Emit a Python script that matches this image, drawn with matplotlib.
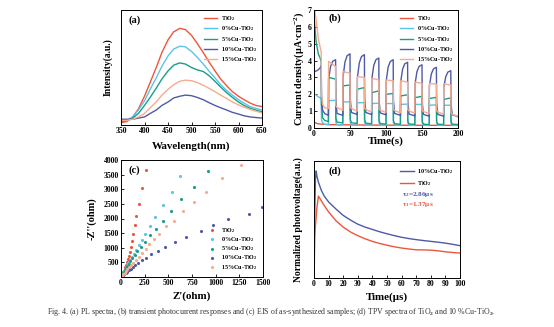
import matplotlib
matplotlib.use('Agg')
import matplotlib.pyplot as plt
import numpy as np

plt.rcParams['font.family'] = ['Liberation Serif', 'DejaVu Serif']
plt.rcParams['font.weight'] = 'bold'
plt.rcParams['mathtext.fontset'] = 'custom'
plt.rcParams['mathtext.rm'] = 'Liberation Serif:bold'
plt.rcParams['mathtext.it'] = 'Liberation Serif:bold'
plt.rcParams['mathtext.bf'] = 'Liberation Serif:bold'
plt.rcParams['mathtext.default'] = 'rm'

names = ['TiO$_2$', '0%Cu-TiO$_2$', '5%Cu-TiO$_2$', '10%Cu-TiO$_2$', '15%Cu-TiO$_2$']
colors = ['#EF553B', '#5CC3E8', '#1A9E86', '#4E5AA6', '#F7AB8D']

# (a) PL spectra
wl = [350, 362, 375, 387, 400, 412, 425, 437, 450, 462, 475, 487, 500, 512, 525,
      537, 550, 562, 575, 587, 600, 612, 625, 637, 650]
pl_tio2 = [0.02, 0.03, 0.07, 0.14, 0.25, 0.37, 0.50, 0.63, 0.74, 0.81, 0.84, 0.83, 0.78, 0.71, 0.63,
           0.55, 0.47, 0.40, 0.34, 0.29, 0.25, 0.22, 0.19, 0.17, 0.16]
pl_0cu = [0.03, 0.04, 0.07, 0.13, 0.21, 0.31, 0.41, 0.51, 0.60, 0.66, 0.685, 0.68, 0.64, 0.59, 0.53,
          0.47, 0.41, 0.35, 0.30, 0.26, 0.22, 0.19, 0.16, 0.145, 0.13]
pl_5cu = [0.03, 0.04, 0.06, 0.10, 0.17, 0.24, 0.32, 0.40, 0.47, 0.52, 0.54, 0.53, 0.50, 0.48, 0.465,
          0.43, 0.38, 0.33, 0.28, 0.24, 0.20, 0.17, 0.145, 0.13, 0.115]
pl_10cu = [0.05, 0.05, 0.05, 0.06, 0.07, 0.10, 0.13, 0.17, 0.20, 0.235, 0.25, 0.26, 0.255, 0.24, 0.22,
           0.195, 0.17, 0.15, 0.13, 0.11, 0.095, 0.08, 0.07, 0.065, 0.06]
pl_15cu = [0.04, 0.04, 0.05, 0.07, 0.10, 0.15, 0.20, 0.26, 0.31, 0.35, 0.38, 0.39, 0.385, 0.37, 0.345,
           0.32, 0.29, 0.26, 0.23, 0.20, 0.175, 0.155, 0.135, 0.12, 0.105]

# (b) transient photocurrent: light on 10 s in each 20 s cycle
t_on = [20, 40, 60, 80, 100, 120, 140, 160, 180]
t_init = [0, 3, 6, 9, 10, 10.4, 12, 15, 20]
init_0cu = [2.05, 1.95, 1.85, 1.78, 1.75, 0.5, 0.3, 0.22, 0.2]
init_5cu = [6.6, 5.1, 4.4, 4.1, 3.9, 1.4, 0.6, 0.45, 0.38]
init_10cu = [3.35, 3.38, 3.45, 3.6, 3.7, 1.8, 1.05, 0.85, 0.75]
init_15cu = [7.3, 6.4, 5.3, 4.7, 4.5, 2.0, 1.4, 1.2, 1.15]
t_tio2 = [0, 5, 20, 60, 100, 140, 200]
j_tio2 = [0.35, 0.25, 0.2, 0.18, 0.17, 0.16, 0.16]
on_start_0cu = [1.62, 1.55, 1.5, 1.45, 1.45, 1.4, 1.4, 1.35, 1.35]
on_end_0cu = [1.65, 1.55, 1.5, 1.47, 1.45, 1.42, 1.4, 1.37, 1.35]
off_0cu = [0.17, 0.16, 0.16, 0.15, 0.15, 0.15, 0.15, 0.15, 0.15]
on_start_5cu = [3.0, 2.5, 2.3, 2.1, 2.0, 1.9, 1.8, 1.75, 1.7]
on_end_5cu = [2.9, 2.55, 2.4, 2.2, 2.05, 1.97, 1.88, 1.82, 1.78]
off_5cu = [0.3, 0.27, 0.25, 0.23, 0.22, 0.21, 0.2, 0.2, 0.2]
on_start_10cu = [2.9, 3.0, 3.0, 2.9, 2.8, 2.7, 2.6, 2.5, 2.4]
on_end_10cu = [4.05, 4.4, 4.35, 4.15, 4.05, 3.9, 3.75, 3.6, 3.4]
off_10cu = [0.75, 0.8, 0.8, 0.78, 0.75, 0.72, 0.7, 0.7, 0.68]
on_start_15cu = [3.95, 3.35, 3.05, 2.95, 2.85, 2.8, 2.72, 2.65, 2.62]
on_end_15cu = [3.65, 3.25, 3.0, 2.85, 2.8, 2.72, 2.65, 2.6, 2.55]
off_15cu = [1.05, 1.0, 0.95, 0.92, 0.9, 0.88, 0.85, 0.82, 0.7]

# (c) EIS Nyquist
zr_tio2 = [264, 218, 187, 162, 145, 128, 114, 101, 90, 80, 70, 61, 52, 44, 37, 30, 24, 18, 13, 9, 5, 2]
zi_tio2 = [3650, 3030, 2510, 2090, 1770, 1470, 1220, 1020, 850, 715, 600, 500, 410, 335, 270, 210, 160, 115, 80, 50, 25, 8]
zr_0cu = [623, 536, 448, 364, 305, 258, 220, 186, 157, 133, 112, 94, 78, 64, 52, 41, 32, 24, 17, 11, 6, 2]
zi_0cu = [3440, 2900, 2450, 2060, 1750, 1470, 1260, 1090, 930, 790, 675, 575, 485, 405, 335, 270, 210, 155, 110, 70, 35, 10]
zr_5cu = [920, 767, 633, 524, 443, 367, 308, 255, 210, 174, 145, 120, 99, 81, 66, 52, 40, 30, 21, 14, 8, 3]
zi_5cu = [3630, 3090, 2650, 2270, 1930, 1645, 1425, 1195, 1035, 880, 750, 640, 540, 450, 370, 300, 235, 180, 130, 85, 45, 15]
zr_10cu = [1490, 1357, 1127, 975, 845, 690, 575, 465, 390, 318, 264, 220, 184, 153, 127, 104, 84, 66, 50, 36, 24, 13, 5]
zi_10cu = [2380, 2150, 1970, 1770, 1560, 1360, 1180, 1030, 890, 770, 660, 565, 480, 405, 340, 280, 228, 182, 140, 102, 68, 38, 12]
zr_15cu = [1264, 1068, 903, 772, 659, 557, 476, 406, 352, 300, 262, 220, 185, 155, 128, 105, 85, 67, 51, 37, 25, 14, 6]
zi_15cu = [3830, 3370, 2920, 2560, 2260, 1920, 1730, 1470, 1290, 1120, 960, 810, 690, 580, 485, 400, 325, 260, 200, 145, 95, 55, 20]

# (d) TPV
t_tpv_cu = [0, 0.5, 1.0, 1.5, 2, 3, 5, 7, 10, 15, 20, 25, 30, 35, 40, 45, 50, 55, 60, 65, 70, 75, 80, 85, 90, 95, 100]
v_tpv_cu = [0.0, 0.55, 0.85, 0.915, 0.87, 0.82, 0.75, 0.70, 0.65, 0.59, 0.535, 0.495, 0.46, 0.435, 0.415, 0.395,
            0.378, 0.362, 0.348, 0.337, 0.328, 0.32, 0.313, 0.306, 0.298, 0.288, 0.276]
t_tpv_ti = [0.2, 0.5, 1.0, 2, 3, 4, 5, 7, 10, 15, 20, 25, 30, 35, 40, 45, 50, 55, 60, 65, 70, 75, 80, 85, 90, 95, 100]
v_tpv_ti = [0.1, 0.36, 0.45, 0.6, 0.70, 0.68, 0.66, 0.62, 0.565, 0.49, 0.435, 0.393, 0.362, 0.335, 0.313, 0.295,
            0.28, 0.267, 0.256, 0.248, 0.241, 0.24, 0.238, 0.232, 0.224, 0.218, 0.213]


def pulse_trace(init, on_start, on_end, off, rounded, t_last, y_last):
    t = list(t_init)
    y = list(init)
    for i, ts in enumerate(t_on):
        if rounded:
            t += [ts, ts + 0.3, ts + 3, ts + 6, ts + 10]
            y += [y[-1], on_start[i], on_start[i] + 0.65 * (on_end[i] - on_start[i]),
                  on_start[i] + 0.92 * (on_end[i] - on_start[i]), on_end[i]]
        else:
            t += [ts, ts + 0.3, ts + 10]
            y += [y[-1], on_start[i], on_end[i]]
        t += [ts + 10.3, ts + 12, ts + 20]
        y += [off[i] + 0.45 * (on_end[i] - off[i]) * (0.6 if rounded else 0.25), off[i] * 1.15, off[i]]
    return t + [t_last], y + [y_last]


fig = plt.figure(figsize=(5.54, 3.27), dpi=100)
fig.patch.set_facecolor('white')

tick_fs = 5.6
lab_fs = 7.9
leg_fs = 4.4


def style(ax):
    ax.tick_params(direction='in', length=2, width=0.6, labelsize=tick_fs, pad=1.5)
    for s in ax.spines.values():
        s.set_linewidth(0.7)
    for lab in ax.get_xticklabels() + ax.get_yticklabels():
        lab.set_fontweight('bold')


# panel a
ax1 = fig.add_axes([121 / 554, 1 - 125 / 327, 141 / 554, 115 / 327])
for ys, c, n in zip([pl_tio2, pl_0cu, pl_5cu, pl_10cu, pl_15cu], colors, names):
    ax1.plot(wl, ys, color=c, lw=1.0, label=n)
ax1.set_xlim(350, 650)
ax1.set_ylim(0, 1.0)
ax1.set_xticks([350, 400, 450, 500, 550, 600, 650])
ax1.set_yticks([])
style(ax1)
ax1.set_xlabel('Wavelength(nm)', fontsize=lab_fs, fontweight='bold')
ax1.xaxis.set_label_coords(0.5, -0.14)
ax1.set_ylabel('Intensity(a.u.)', fontsize=6.9, fontweight='bold')
ax1.yaxis.set_label_coords(-0.06, 0.5)
ax1.text(0.05, 0.95, '(a)', transform=ax1.transAxes, fontsize=7.5, fontweight='bold', va='top')
ax1.legend(loc='upper right', frameon=False, fontsize=leg_fs, handlelength=2.2, labelspacing=0.22,
           borderaxespad=0.3, handletextpad=0.6)

# panel b
ax2 = fig.add_axes([314 / 554, 1 - 128 / 327, 144 / 554, 118 / 327])
ax2.plot(t_tio2, j_tio2, color=colors[0], lw=1.0, label=names[0])
tr = pulse_trace(init_0cu, on_start_0cu, on_end_0cu, off_0cu, False, 200, 0.15)
ax2.plot(tr[0], tr[1], color=colors[1], lw=1.0, label=names[1])
tr = pulse_trace(init_5cu, on_start_5cu, on_end_5cu, off_5cu, False, 200, 0.2)
ax2.plot(tr[0], tr[1], color=colors[2], lw=1.0, label=names[2])
tr = pulse_trace(init_10cu, on_start_10cu, on_end_10cu, off_10cu, True, 200, 0.65)
ax2.plot(tr[0], tr[1], color=colors[3], lw=1.0, label=names[3])
tr = pulse_trace(init_15cu, on_start_15cu, on_end_15cu, off_15cu, False, 200, 0.65)
ax2.plot(tr[0], tr[1], color=colors[4], lw=1.0, label=names[4])
ax2.set_xlim(0, 200)
ax2.set_ylim(0, 7)
ax2.set_xticks([0, 50, 100, 150, 200])
ax2.set_yticks(range(8))
style(ax2)
ax2.set_xlabel('Time(s)', fontsize=lab_fs, fontweight='bold')
ax2.xaxis.set_label_coords(0.5, -0.075)
ax2.set_ylabel('Current density(μA·cm$^{-2}$)', fontsize=7.3, fontweight='bold')
ax2.yaxis.set_label_coords(-0.055, 0.5)
ax2.text(0.1, 0.97, '(b)', transform=ax2.transAxes, fontsize=7.5, fontweight='bold', va='top')
ax2.legend(loc='upper right', frameon=False, fontsize=leg_fs, handlelength=2.2, labelspacing=0.22,
           borderaxespad=0.3, handletextpad=0.6)

# panel c
ax3 = fig.add_axes([121 / 554, 1 - 277 / 327, 142 / 554, 117 / 327])
for zr, zi, c, n in zip([zr_tio2, zr_0cu, zr_5cu, zr_10cu, zr_15cu],
                        [zi_tio2, zi_0cu, zi_5cu, zi_10cu, zi_15cu], colors, names):
    ax3.scatter(zr, zi, s=5, color=c, label=n, linewidths=0)
ax3.set_xlim(0, 1500)
ax3.set_ylim(0, 4000)
ax3.set_xticks([0, 250, 500, 750, 1000, 1250, 1500])
ax3.set_yticks([500, 1000, 1500, 2000, 2500, 3000, 3500, 4000])
style(ax3)
ax3.set_xlabel("Z'(ohm)", fontsize=lab_fs, fontweight='bold')
ax3.xaxis.set_label_coords(0.5, -0.125)
ax3.set_ylabel("-Z''(ohm)", fontsize=7.5, fontweight='bold')
ax3.yaxis.set_label_coords(-0.17, 0.5)
ax3.text(0.05, 0.95, '(c)', transform=ax3.transAxes, fontsize=7.5, fontweight='bold', va='top')
ax3.legend(loc='lower right', frameon=False, fontsize=leg_fs, markerscale=1.0, labelspacing=0.05,
           borderaxespad=0.5, handletextpad=0.4)

# panel d
ax4 = fig.add_axes([314 / 554, 1 - 278 / 327, 146 / 554, 117 / 327])
ax4.plot(t_tpv_cu, v_tpv_cu, color=colors[3], lw=1.0, label='10%Cu-TiO$_2$')
ax4.plot(t_tpv_ti, v_tpv_ti, color=colors[0], lw=1.0, label='TiO$_2$')
ax4.set_xlim(0, 100)
ax4.set_ylim(0, 1.0)
ax4.set_xticks(range(0, 101, 10))
ax4.set_yticks([])
style(ax4)
ax4.set_xlabel('Time(μs)', fontsize=lab_fs, fontweight='bold')
ax4.xaxis.set_label_coords(0.5, -0.125)
ax4.set_ylabel('Normalized photovoltage(a.u.)', fontsize=6.9, fontweight='bold')
ax4.yaxis.set_label_coords(-0.075, 0.5)
ax4.text(0.1, 0.95, '(d)', transform=ax4.transAxes, fontsize=7.5, fontweight='bold', va='top')
ax4.legend(loc='upper right', frameon=False, fontsize=leg_fs, handlelength=2.2, labelspacing=0.5,
           borderaxespad=0.6, handletextpad=0.6)
ax4.text(0.6, 0.70, 'τ$_2$=2.86μs', transform=ax4.transAxes, fontsize=5.2, color=colors[3], fontweight='bold')
ax4.text(0.6, 0.615, 'τ$_1$=1.37μs', transform=ax4.transAxes, fontsize=5.2, color=colors[0], fontweight='bold')

fig.text(0.489, 1 - 312 / 327,
         'Fig. 4. (a) PL spectra, (b) transient photocurrent responses and (c) EIS of as-synthesized samples; '
         '(d) TPV spectra of TiO$_2$ and 10 %Cu-TiO$_2$.',
         ha='center', va='center', fontsize=5.65, fontweight='normal', color='#333333')

fig.savefig('out.png', dpi=100)
